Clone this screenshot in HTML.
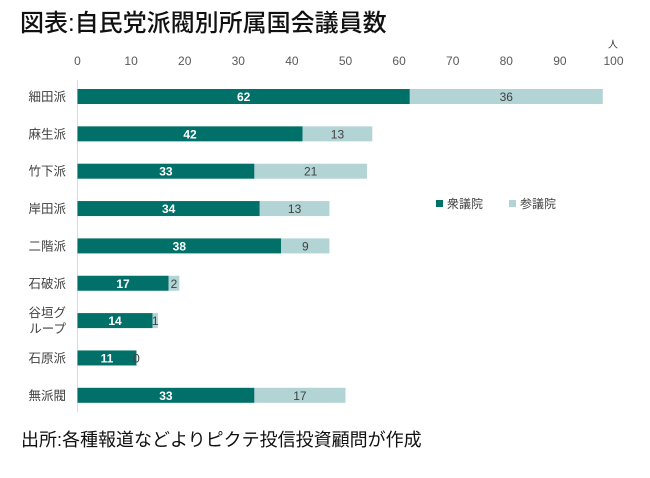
<!DOCTYPE html>
<html><head><meta charset="utf-8"><style>
body{margin:0;background:#fff;width:650px;height:473px;overflow:hidden;font-family:"Liberation Sans","Noto Sans CJK JP",sans-serif}
</style></head><body>
<svg width="650" height="473" font-family="Liberation Sans, Noto Sans CJK JP, sans-serif">
<text x="20" y="31" font-size="24" font-weight="500" fill="#111">図表:自民党派閥別所属国会議員数</text>
<text x="21" y="446" font-size="18" fill="#111">出所:各種報道などよりピクテ投信投資顧問が作成</text>
<text x="613" y="48" font-size="10" fill="#333" text-anchor="middle">人</text>
<line x1="77.5" y1="80" x2="77.5" y2="412" stroke="#d9d9d9"/>
<g id="ticks"></g><g id="bars"></g>
<g>
<rect x="436" y="200" width="7" height="7" fill="#007068"/>
<text x="447" y="208" font-size="12" fill="#404040">衆議院</text>
<rect x="509" y="200" width="7" height="7" fill="#b3d4d5"/>
<text x="520" y="208" font-size="12" fill="#404040">参議院</text>
</g>
</svg>
<script>
const categories=[["細田派"],["麻生派"],["竹下派"],["岸田派"],["二階派"],["石破派"],["谷垣グ","ループ"],["石原派"],["無派閥"]];
const shugiin=[62,42,33,34,38,17,14,11,33];
const sangiin=[36,13,21,13,9,2,1,0,17];
const tickValues=[0,10,20,30,40,50,60,70,80,90,100];
const NS="http://www.w3.org/2000/svg";
const x0=77.5,x1=613.5,vmax=100;
const xs=v=>x0+(x1-x0)*v/vmax;
const y0=96.5,step=37.35,bh=15;
const ys=i=>y0+i*step;
function mk(t,a,p){const e=document.createElementNS(NS,t);for(const k in a)e.setAttribute(k,a[k]);p.appendChild(e);return e;}
const tg=document.getElementById('ticks'),bg=document.getElementById('bars');
tickValues.forEach(v=>{const t=mk('text',{x:xs(v),y:65,'font-size':12,fill:'#595959','text-anchor':'middle'},tg);t.textContent=v;

});
categories.forEach((c,i)=>{const cy=ys(i);
const lines=c;lines.forEach((s,j)=>{const t=mk('text',{x:66,y:cy+4.5+(j-(lines.length-1)/2)*16,'font-size':12.5,fill:'#404040','text-anchor':'end'},bg);t.textContent=s;

});
const a=shugiin[i],b=sangiin[i];
const r1=mk('rect',{x:xs(0),y:cy-bh/2,width:xs(a)-xs(0),height:bh,fill:'#007068'},bg);


const r2=mk('rect',{x:xs(a),y:cy-bh/2,width:xs(a+b)-xs(a),height:bh,fill:'#b3d4d5'},bg);


const l1=mk('text',{x:(xs(0)+xs(a))/2,y:cy+4.5,'font-size':12,'font-weight':'bold',fill:'#fff','text-anchor':'middle'},bg);l1.textContent=a;


const l2=mk('text',{x:(xs(a)+xs(a+b))/2,y:cy+4.5,'font-size':12,fill:'#404040','text-anchor':'middle'},bg);l2.textContent=b;


});
</script>
</body></html>
